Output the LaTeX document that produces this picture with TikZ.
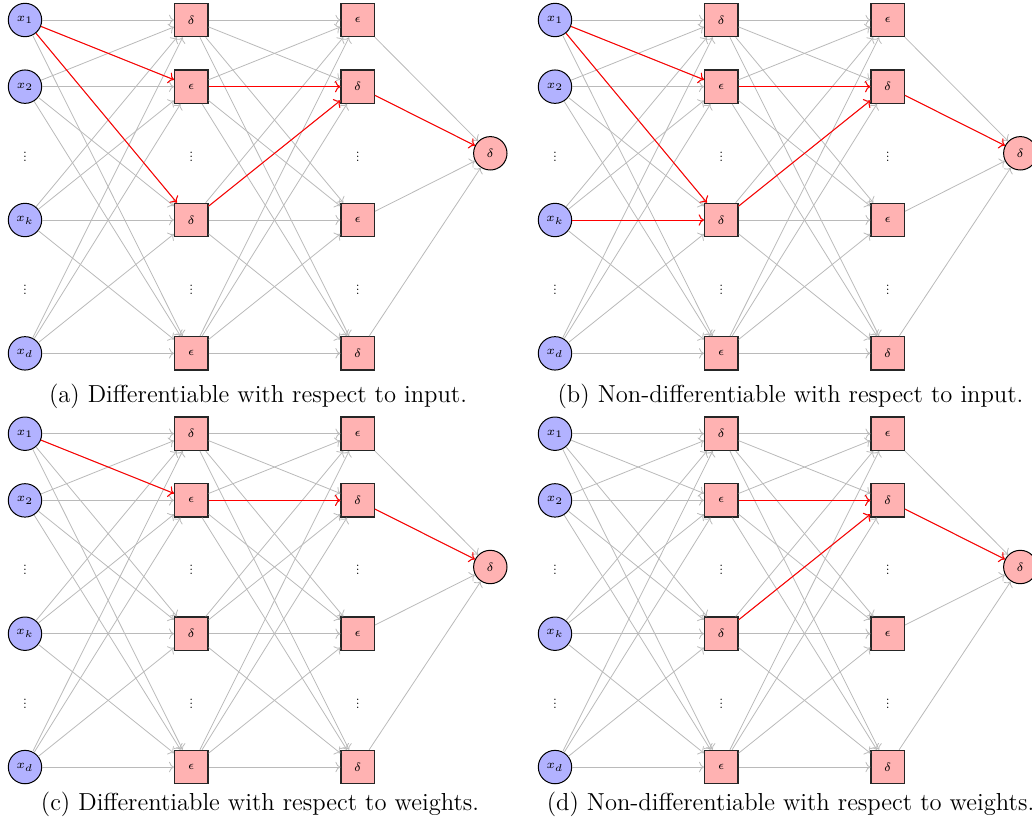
\documentclass[tikz,border=0pt]{standalone}
\usepackage{graphicx}
\usetikzlibrary{arrows.meta}
\tikzset{
  lbl/.style={font=\fontsize{6}{7}\selectfont},
  inp/.style={lbl,circle,draw=black,fill=blue!30,minimum size=16.7pt,inner sep=0pt,line width=0.5pt},
  hid/.style={lbl,rectangle,draw=black!85,fill=red!30,minimum size=16.7pt,inner sep=0pt,line width=0.6pt},
  outp/.style={lbl,circle,draw=black,fill=red!30,minimum size=16.7pt,inner sep=0pt,line width=0.5pt},
  dotn/.style={font=\fontsize{14}{16}\selectfont,inner sep=0pt},
  conn/.style={->,draw=black!27,line width=0.4pt},
  hl/.style={->,draw=red,line width=0.5pt},
  captext/.style={anchor=base,inner sep=0pt,font=\fontsize{12.3}{15}\selectfont},
}
\newcommand\netbody{%
  \foreach \r/\lab in {1/x_1,2/x_2,4/x_k,6/x_d}
    \node[inp] (i\r) at (25,{20+(\r-1)*66.67}) {$\lab$};
  \foreach \r/\lab in {1/\delta,2/\epsilon,4/\delta,6/\epsilon}
    \node[hid] (h\r) at (191.3,{20+(\r-1)*66.67}) {$\lab$};
  \foreach \r/\lab in {1/\epsilon,2/\delta,4/\epsilon,6/\delta}
    \node[hid] (g\r) at (357.7,{20+(\r-1)*66.67}) {$\lab$};
  \node[outp] (o) at (490.3,153.3) {$\delta$};
  \foreach \c/\n in {25/i,191.3/h,357.7/g}
    \foreach \r in {3,5}
      \node[dotn] (\n\r) at (\c,{20+(\r-1)*66.67}) {\scalebox{0.5}{$\vdots$}};
  \foreach \s in {1,2,4,6}{
    \foreach \t in {1,2,4,6}{
      \draw[conn] (i\s) -- (h\t);
      \draw[conn] (h\s) -- (g\t);
    }
    \draw[conn] (g\s) -- (o);
  }
}
\begin{document}
\begin{tikzpicture}[x=0.5pt,y=-0.5pt]
  \useasboundingbox (0,0) rectangle (1032,830);
  % (a)
  \begin{scope}[name prefix=a-]
    \netbody
    \draw[hl] (i1) -- (h2);
    \draw[hl] (i1) -- (h4);
    \draw[hl] (h2) -- (g2);
    \draw[hl] (h4) -- (g2);
    \draw[hl] (g2) -- (o);
  \end{scope}
  % (b)
  \begin{scope}[shift={(530,0)},name prefix=b-]
    \netbody
    \draw[hl] (i1) -- (h2);
    \draw[hl] (i1) -- (h4);
    \draw[hl] (i4) -- (h4);
    \draw[hl] (h2) -- (g2);
    \draw[hl] (h4) -- (g2);
    \draw[hl] (g2) -- (o);
  \end{scope}
  % (c)
  \begin{scope}[shift={(0,413.7)},name prefix=c-]
    \netbody
    \draw[hl] (i1) -- (h2);
    \draw[hl] (h2) -- (g2);
    \draw[hl] (g2) -- (o);
  \end{scope}
  % (d)
  \begin{scope}[shift={(530,413.7)},name prefix=d-]
    \netbody
    \draw[hl] (h2) -- (g2);
    \draw[hl] (h4) -- (g2);
    \draw[hl] (g2) -- (o);
  \end{scope}
  \node[captext] (capa) at (258,402) {(a) Differentiable with respect to input.};
  \node[captext] (capb) at (790.5,402) {(b) Non-differentiable with respect to input.};
  \node[captext] (capc) at (260,810) {(c) Differentiable with respect to weights.};
  \node[captext] (capd) at (790.5,810) {(d) Non-differentiable with respect to weights.};
\end{tikzpicture}
\end{document}
